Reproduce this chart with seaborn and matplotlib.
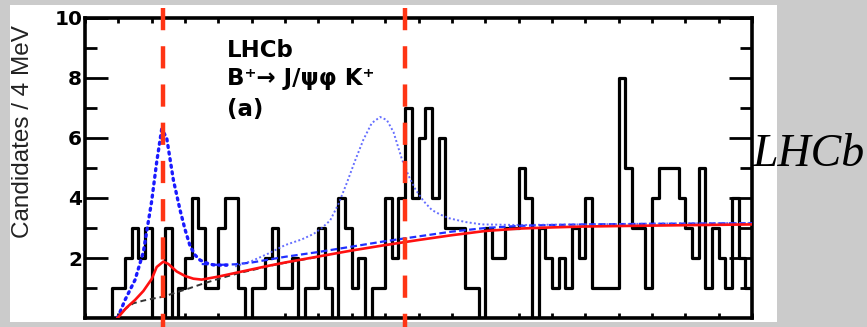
import numpy as np
import pandas as pd
import matplotlib
matplotlib.use("Agg")
import matplotlib.pyplot as plt
from matplotlib.patches import Rectangle
from matplotlib.ticker import MultipleLocator, NullFormatter, FixedLocator
import seaborn as sns

# ---------------------------------------------------------------------------
# Delta M = M(J/psi phi) - M(J/psi) spectrum, 4 MeV bins from 1.000 GeV
# ---------------------------------------------------------------------------
BIN_START = 1.000
BIN_WIDTH = 0.004
counts = [
    0, 0, 0, 0, 1, 1, 2, 3, 2, 3,
    0, 0, 3, 0, 1, 2, 4, 3, 1, 1,
    3, 4, 4, 1, 0, 1, 1, 2, 3, 1,
    1, 2, 0, 1, 1, 3, 1, 0, 4, 3,
    1, 2, 0, 1, 1, 4, 2, 4, 7, 4,
    6, 7, 4, 6, 3, 3, 3, 1, 1, 0,
    3, 2, 2, 3, 3, 5, 4, 0, 3, 2,
    1, 2, 1, 3, 2, 4, 1, 1, 1, 1,
    8, 5, 3, 3, 1, 4, 5, 5, 5, 4,
    3, 2, 5, 1, 3, 2, 1, 4, 2, 1,
]

# LHCb fit (signal + background), solid red
fit_dm = [1.0195, 1.025, 1.030, 1.035, 1.040, 1.043, 1.047, 1.050, 1.055,
          1.060, 1.065, 1.070, 1.080, 1.090, 1.100, 1.110, 1.120, 1.140,
          1.160, 1.180, 1.200, 1.220, 1.240, 1.260, 1.280, 1.300, 1.340,
          1.370, 1.400]
fit_n = [0.0, 0.35, 0.6, 0.9, 1.3, 1.7, 1.88, 1.8, 1.55,
         1.4, 1.31, 1.28, 1.38, 1.5, 1.62, 1.74, 1.85, 2.05,
         2.25, 2.43, 2.6, 2.76, 2.9, 2.98, 3.02, 3.05, 3.08,
         3.1, 3.12]

# LHCb background component, black dashed
bkg_dm = [1.0195, 1.024, 1.029, 1.035, 1.041, 1.047, 1.055, 1.062, 1.070,
          1.078, 1.086, 1.094, 1.102, 1.110, 1.120, 1.140]
bkg_n = [0.0, 0.3, 0.49, 0.58, 0.65, 0.71, 0.86, 0.98, 1.13,
         1.27, 1.4, 1.52, 1.62, 1.73, 1.84, 2.04]

# Expected X(4140) signal on top of background, blue dotted
x4140_dm = [1.0195, 1.024, 1.030, 1.035, 1.040, 1.043, 1.046, 1.049, 1.053,
            1.057, 1.060, 1.063, 1.066, 1.069, 1.073, 1.077, 1.085]
x4140_n = [0.0, 0.6, 1.27, 2.2, 3.9, 5.2, 6.3, 6.0, 4.6,
           3.6, 2.95, 2.4, 2.1, 1.93, 1.83, 1.77, 1.76]

# Expected X(4274) signal on top of background, fine blue dotted
x4274_dm = [1.090, 1.100, 1.110, 1.120, 1.130, 1.137, 1.142, 1.147, 1.152,
            1.157, 1.162, 1.167, 1.172, 1.177, 1.181, 1.185, 1.190, 1.194,
            1.198, 1.203, 1.208, 1.213, 1.218, 1.228, 1.238, 1.260, 1.300,
            1.350, 1.400]
x4274_n = [1.72, 1.9, 2.15, 2.43, 2.62, 2.8, 3.0, 3.25, 3.8,
           4.5, 5.25, 5.95, 6.5, 6.7, 6.6, 6.2, 5.3, 4.75,
           4.3, 3.9, 3.6, 3.45, 3.33, 3.2, 3.12, 3.1, 3.12,
           3.15, 3.17]

# Background used for the expected signals, blue dashed
exp_bkg_dm = [1.070, 1.080, 1.090, 1.100, 1.120, 1.140, 1.160, 1.180, 1.200,
              1.220, 1.240, 1.260, 1.280, 1.300, 1.340, 1.400]
exp_bkg_n = [1.8, 1.77, 1.79, 1.85, 2.04, 2.2, 2.38, 2.56, 2.72,
             2.88, 3.0, 3.07, 3.1, 3.12, 3.14, 3.16]

# Mass positions highlighted with vertical markers
marker_dm = [1.0468, 1.1919]

y_major = [2, 4, 6, 8, 10]
y_minor = [1, 3, 5, 7, 9]

# ---------------------------------------------------------------------------
W, H = 867, 327
fig = plt.figure(figsize=(W / 100, H / 100), dpi=100, facecolor="#cbcbcb")
fig.patches.append(Rectangle((10 / W, 5 / H), 767 / W, 317 / H,
                             transform=fig.transFigure, facecolor="white",
                             edgecolor="none", zorder=-1))
ax = fig.add_axes([85 / W, 9 / H, 667 / W, 300 / H])
ax.set_facecolor("white")

edges = [BIN_START + BIN_WIDTH * i for i in range(len(counts) + 1)]
centers = [BIN_START + BIN_WIDTH * (i + 0.5) for i in range(len(counts))]
hist_df = pd.DataFrame({"dm": centers, "n": counts})
sns.histplot(data=hist_df, x="dm", weights="n", bins=edges, element="step",
             fill=False, color="black", linewidth=2.3, ax=ax, zorder=2)

sns.lineplot(x=bkg_dm, y=bkg_n, ax=ax, color="#333333", lw=1.4,
             linestyle=(0, (3, 2)), zorder=3)
sns.lineplot(x=exp_bkg_dm, y=exp_bkg_n, ax=ax, color="#2030ff", lw=1.6,
             linestyle=(0, (3, 1.5)), zorder=3)
sns.lineplot(x=x4274_dm, y=x4274_n, ax=ax, color="#4a55ff", lw=1.4,
             linestyle=(0, (1, 1.2)), zorder=3, alpha=0.85)
sns.lineplot(x=x4140_dm, y=x4140_n, ax=ax, color="#1a1aff", lw=2.4,
             linestyle=(0, (0.6, 1.4)), dash_capstyle="round", zorder=3)
sns.lineplot(x=fit_dm, y=fit_n, ax=ax, color="#ff1010", lw=1.9, zorder=4)

for m in marker_dm:
    ax.axvline(m, ymin=1.033, ymax=-0.03, color="#ff3515", lw=3.2,
               dashes=(5, 3.6), clip_on=False, zorder=6)

ax.set_xlim(1.0, 1.4)
ax.set_ylim(0, 10)
ax.xaxis.set_major_locator(MultipleLocator(0.02))
ax.xaxis.set_major_formatter(NullFormatter())
ax.yaxis.set_major_locator(FixedLocator(y_major))
ax.yaxis.set_minor_locator(FixedLocator(y_minor))
ax.set_yticklabels([str(v) for v in y_major], fontfamily="DejaVu Sans",
                   fontweight="bold", fontsize=14.5)
ax.tick_params(axis="x", which="major", direction="in", top=True, bottom=True,
               length=3.8, width=2.0, color="black")
ax.tick_params(axis="y", which="major", direction="in", left=True, right=True,
               length=16.5, width=2.0, pad=2, color="black")
ax.tick_params(axis="y", which="minor", direction="in", left=True, right=True,
               length=8.5, width=2.0, color="black")
for s in ax.spines.values():
    s.set_linewidth(2.6)
    s.set_color("black")

ax.set_xlabel("")
ax.set_ylabel("Candidates / 4 MeV", fontfamily="Liberation Sans",
              fontsize=17.5, color="#222222")
ax.yaxis.set_label_coords(-0.093, 0.62)
ax.yaxis.label.set_va("center")

txt = dict(fontfamily="DejaVu Sans", fontweight="bold", fontsize=16.5,
           color="black", va="baseline", ha="left")
ax.text(1.0852, 8.7, "LHCb", **txt)
ax.text(1.0852, 7.78, "B\u207a\u2192 J/\u03c8\u03c6 K\u207a", **txt)
ax.text(1.0852, 6.72, "(a)", **txt)

fig.text(753 / W, (H - 166) / H, "LHCb", fontfamily="Liberation Serif",
         fontstyle="italic", fontsize=33, color="black", ha="left",
         va="baseline")

fig.savefig("out.png", dpi=100, facecolor=fig.get_facecolor())
